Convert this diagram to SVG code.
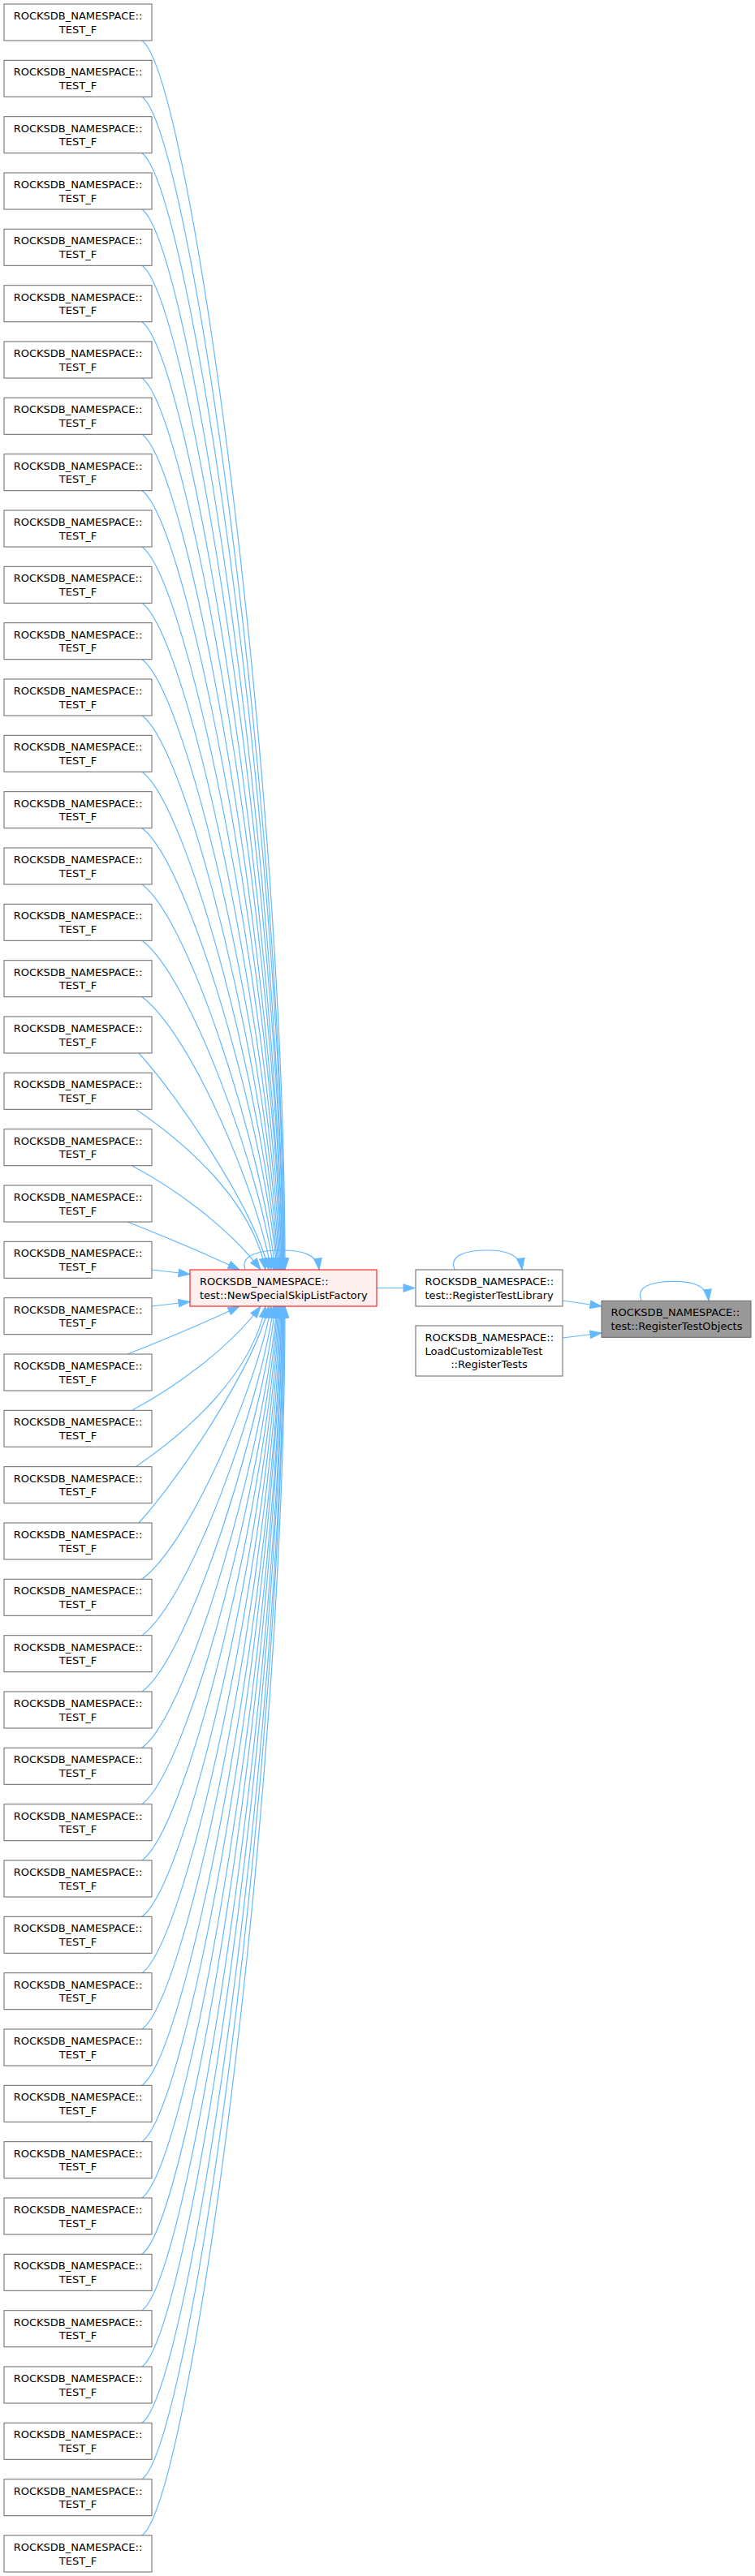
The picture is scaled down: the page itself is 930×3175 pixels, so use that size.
<svg xmlns="http://www.w3.org/2000/svg" width="930" height="3175" viewBox="0 0 930 3175">
<defs>
<style>
text{font-family:"DejaVu Sans","Liberation Sans",sans-serif;font-size:13px;fill:#000}
.node rect{fill:#fff;stroke:#666;stroke-width:1}
.node text{text-anchor:middle}
.node text.st{text-anchor:start}
.node text.md{text-anchor:middle}
#edges path{fill:none;stroke:#63b8ff;stroke-width:1.2;marker-end:url(#ah)}
</style>
<marker id="ah" markerUnits="userSpaceOnUse" markerWidth="14" markerHeight="10" refX="14" refY="4.75" orient="auto" overflow="visible">
<path d="M0,0 L14,4.75 L0,9.5 Z" fill="#63b8ff" stroke="#63b8ff" stroke-width="1"/>
</marker>
</defs>
<rect width="930" height="3175" fill="#fff"/>
<g id="edges">
<path d="M175,50 C235,95 351,959 351,1565"/>
<path d="M175,119.3 C235,164.3 349,996.4 350,1565"/>
<path d="M175,188.7 C235,233.7 348,1032.8 350,1565"/>
<path d="M175,258 C235,303 346,1068.3 349,1565"/>
<path d="M175,327.3 C235,372.3 345,1102.8 349,1565"/>
<path d="M175,396.7 C235,441.7 343,1136.6 348,1565"/>
<path d="M175,466 C235,511 342,1169.4 348,1565"/>
<path d="M175,535.3 C235,580.3 340,1201.2 347,1565"/>
<path d="M175,604.7 C235,649.7 339,1232.1 347,1565"/>
<path d="M175,674 C235,719 337,1262.1 346,1565"/>
<path d="M175,743.3 C235,788.3 335,1291.1 345,1565"/>
<path d="M175,812.7 C235,857.7 333,1319.2 344,1565"/>
<path d="M175,882 C235,927 331,1346.4 343,1565"/>
<path d="M175,951.3 C235,996.3 329,1372.7 342,1565"/>
<path d="M175,1020.7 C235,1065.7 327,1398.1 341,1565"/>
<path d="M175,1090 C235,1135 324,1422.5 339,1565"/>
<path d="M175,1159.3 C235,1204.3 321,1446 337,1565"/>
<path d="M175,1228.7 C235,1273.7 317,1468.6 334,1565"/>
<path d="M171,1298 C221,1353 313,1490.2 331,1565"/>
<path d="M167,1367 C230,1410 310,1480 327,1565"/>
<path d="M163,1437 C210,1462 280,1510 321,1565"/>
<path d="M157,1506 C205,1525 255,1546 295,1565"/>
<path d="M187,1565 L234,1570.5"/>
<path d="M187,1610 L234,1604.5"/>
<path d="M157,1669 C205,1650 255,1629 295,1610"/>
<path d="M163,1738 C210,1713 280,1665 321,1610"/>
<path d="M167,1808 C230,1765 310,1695 327,1610"/>
<path d="M171,1877 C221,1822 313,1684.8 331,1610"/>
<path d="M175,1946.3 C235,1901.3 317,1706.4 334,1610"/>
<path d="M175,2015.7 C235,1970.7 321,1729 337,1610"/>
<path d="M175,2085 C235,2040 324,1752.5 339,1610"/>
<path d="M175,2154.3 C235,2109.3 327,1776.9 341,1610"/>
<path d="M175,2223.7 C235,2178.7 329,1802.3 342,1610"/>
<path d="M175,2293 C235,2248 331,1828.6 343,1610"/>
<path d="M175,2362.3 C235,2317.3 333,1855.8 344,1610"/>
<path d="M175,2431.7 C235,2386.7 335,1883.9 345,1610"/>
<path d="M175,2501 C235,2456 337,1912.9 346,1610"/>
<path d="M175,2570.3 C235,2525.3 339,1942.9 347,1610"/>
<path d="M175,2639.7 C235,2594.7 340,1973.8 347,1610"/>
<path d="M175,2709 C235,2664 342,2005.6 348,1610"/>
<path d="M175,2778.3 C235,2733.3 343,2038.4 348,1610"/>
<path d="M175,2847.7 C235,2802.7 345,2072.2 349,1610"/>
<path d="M175,2917 C235,2872 346,2106.7 349,1610"/>
<path d="M175,2986.3 C235,2941.3 348,2142.2 350,1610"/>
<path d="M175,3055.7 C235,3010.7 349,2178.6 350,1610"/>
<path d="M175,3125 C235,3080 351,2216 351,1610"/>
<path d="M302,1565 C296,1547 318,1541 348,1541 C372,1541 391,1546 393,1565"/>
<path d="M464,1587.5 L511,1587.5"/>
<path d="M560,1565 C553,1548 572,1541 600,1541 C625,1541 641,1547 643,1565"/>
<path d="M693,1603 L741,1610"/>
<path d="M693,1649 L741,1643"/>
<path d="M790,1603.3 C783,1586 802,1579.3 830,1579.3 C855,1579.3 871,1585 873,1603.3"/>
</g>
<g id="n0" class="node" transform="translate(5,5)"><rect width="182" height="45"/><text x="91" y="19">ROCKSDB_NAMESPACE::</text><text x="91" y="35.5">TEST_F</text></g>
<g id="n1" class="node" transform="translate(5,74.3)"><rect width="182" height="45"/><text x="91" y="19">ROCKSDB_NAMESPACE::</text><text x="91" y="35.5">TEST_F</text></g>
<g id="n2" class="node" transform="translate(5,143.7)"><rect width="182" height="45"/><text x="91" y="19">ROCKSDB_NAMESPACE::</text><text x="91" y="35.5">TEST_F</text></g>
<g id="n3" class="node" transform="translate(5,213)"><rect width="182" height="45"/><text x="91" y="19">ROCKSDB_NAMESPACE::</text><text x="91" y="35.5">TEST_F</text></g>
<g id="n4" class="node" transform="translate(5,282.3)"><rect width="182" height="45"/><text x="91" y="19">ROCKSDB_NAMESPACE::</text><text x="91" y="35.5">TEST_F</text></g>
<g id="n5" class="node" transform="translate(5,351.7)"><rect width="182" height="45"/><text x="91" y="19">ROCKSDB_NAMESPACE::</text><text x="91" y="35.5">TEST_F</text></g>
<g id="n6" class="node" transform="translate(5,421)"><rect width="182" height="45"/><text x="91" y="19">ROCKSDB_NAMESPACE::</text><text x="91" y="35.5">TEST_F</text></g>
<g id="n7" class="node" transform="translate(5,490.3)"><rect width="182" height="45"/><text x="91" y="19">ROCKSDB_NAMESPACE::</text><text x="91" y="35.5">TEST_F</text></g>
<g id="n8" class="node" transform="translate(5,559.7)"><rect width="182" height="45"/><text x="91" y="19">ROCKSDB_NAMESPACE::</text><text x="91" y="35.5">TEST_F</text></g>
<g id="n9" class="node" transform="translate(5,629)"><rect width="182" height="45"/><text x="91" y="19">ROCKSDB_NAMESPACE::</text><text x="91" y="35.5">TEST_F</text></g>
<g id="n10" class="node" transform="translate(5,698.3)"><rect width="182" height="45"/><text x="91" y="19">ROCKSDB_NAMESPACE::</text><text x="91" y="35.5">TEST_F</text></g>
<g id="n11" class="node" transform="translate(5,767.7)"><rect width="182" height="45"/><text x="91" y="19">ROCKSDB_NAMESPACE::</text><text x="91" y="35.5">TEST_F</text></g>
<g id="n12" class="node" transform="translate(5,837)"><rect width="182" height="45"/><text x="91" y="19">ROCKSDB_NAMESPACE::</text><text x="91" y="35.5">TEST_F</text></g>
<g id="n13" class="node" transform="translate(5,906.3)"><rect width="182" height="45"/><text x="91" y="19">ROCKSDB_NAMESPACE::</text><text x="91" y="35.5">TEST_F</text></g>
<g id="n14" class="node" transform="translate(5,975.7)"><rect width="182" height="45"/><text x="91" y="19">ROCKSDB_NAMESPACE::</text><text x="91" y="35.5">TEST_F</text></g>
<g id="n15" class="node" transform="translate(5,1045)"><rect width="182" height="45"/><text x="91" y="19">ROCKSDB_NAMESPACE::</text><text x="91" y="35.5">TEST_F</text></g>
<g id="n16" class="node" transform="translate(5,1114.3)"><rect width="182" height="45"/><text x="91" y="19">ROCKSDB_NAMESPACE::</text><text x="91" y="35.5">TEST_F</text></g>
<g id="n17" class="node" transform="translate(5,1183.7)"><rect width="182" height="45"/><text x="91" y="19">ROCKSDB_NAMESPACE::</text><text x="91" y="35.5">TEST_F</text></g>
<g id="n18" class="node" transform="translate(5,1253)"><rect width="182" height="45"/><text x="91" y="19">ROCKSDB_NAMESPACE::</text><text x="91" y="35.5">TEST_F</text></g>
<g id="n19" class="node" transform="translate(5,1322.3)"><rect width="182" height="45"/><text x="91" y="19">ROCKSDB_NAMESPACE::</text><text x="91" y="35.5">TEST_F</text></g>
<g id="n20" class="node" transform="translate(5,1391.7)"><rect width="182" height="45"/><text x="91" y="19">ROCKSDB_NAMESPACE::</text><text x="91" y="35.5">TEST_F</text></g>
<g id="n21" class="node" transform="translate(5,1461)"><rect width="182" height="45"/><text x="91" y="19">ROCKSDB_NAMESPACE::</text><text x="91" y="35.5">TEST_F</text></g>
<g id="n22" class="node" transform="translate(5,1530.3)"><rect width="182" height="45"/><text x="91" y="19">ROCKSDB_NAMESPACE::</text><text x="91" y="35.5">TEST_F</text></g>
<g id="n23" class="node" transform="translate(5,1599.7)"><rect width="182" height="45"/><text x="91" y="19">ROCKSDB_NAMESPACE::</text><text x="91" y="35.5">TEST_F</text></g>
<g id="n24" class="node" transform="translate(5,1669)"><rect width="182" height="45"/><text x="91" y="19">ROCKSDB_NAMESPACE::</text><text x="91" y="35.5">TEST_F</text></g>
<g id="n25" class="node" transform="translate(5,1738.3)"><rect width="182" height="45"/><text x="91" y="19">ROCKSDB_NAMESPACE::</text><text x="91" y="35.5">TEST_F</text></g>
<g id="n26" class="node" transform="translate(5,1807.7)"><rect width="182" height="45"/><text x="91" y="19">ROCKSDB_NAMESPACE::</text><text x="91" y="35.5">TEST_F</text></g>
<g id="n27" class="node" transform="translate(5,1877)"><rect width="182" height="45"/><text x="91" y="19">ROCKSDB_NAMESPACE::</text><text x="91" y="35.5">TEST_F</text></g>
<g id="n28" class="node" transform="translate(5,1946.3)"><rect width="182" height="45"/><text x="91" y="19">ROCKSDB_NAMESPACE::</text><text x="91" y="35.5">TEST_F</text></g>
<g id="n29" class="node" transform="translate(5,2015.7)"><rect width="182" height="45"/><text x="91" y="19">ROCKSDB_NAMESPACE::</text><text x="91" y="35.5">TEST_F</text></g>
<g id="n30" class="node" transform="translate(5,2085)"><rect width="182" height="45"/><text x="91" y="19">ROCKSDB_NAMESPACE::</text><text x="91" y="35.5">TEST_F</text></g>
<g id="n31" class="node" transform="translate(5,2154.3)"><rect width="182" height="45"/><text x="91" y="19">ROCKSDB_NAMESPACE::</text><text x="91" y="35.5">TEST_F</text></g>
<g id="n32" class="node" transform="translate(5,2223.7)"><rect width="182" height="45"/><text x="91" y="19">ROCKSDB_NAMESPACE::</text><text x="91" y="35.5">TEST_F</text></g>
<g id="n33" class="node" transform="translate(5,2293)"><rect width="182" height="45"/><text x="91" y="19">ROCKSDB_NAMESPACE::</text><text x="91" y="35.5">TEST_F</text></g>
<g id="n34" class="node" transform="translate(5,2362.3)"><rect width="182" height="45"/><text x="91" y="19">ROCKSDB_NAMESPACE::</text><text x="91" y="35.5">TEST_F</text></g>
<g id="n35" class="node" transform="translate(5,2431.7)"><rect width="182" height="45"/><text x="91" y="19">ROCKSDB_NAMESPACE::</text><text x="91" y="35.5">TEST_F</text></g>
<g id="n36" class="node" transform="translate(5,2501)"><rect width="182" height="45"/><text x="91" y="19">ROCKSDB_NAMESPACE::</text><text x="91" y="35.5">TEST_F</text></g>
<g id="n37" class="node" transform="translate(5,2570.3)"><rect width="182" height="45"/><text x="91" y="19">ROCKSDB_NAMESPACE::</text><text x="91" y="35.5">TEST_F</text></g>
<g id="n38" class="node" transform="translate(5,2639.7)"><rect width="182" height="45"/><text x="91" y="19">ROCKSDB_NAMESPACE::</text><text x="91" y="35.5">TEST_F</text></g>
<g id="n39" class="node" transform="translate(5,2709)"><rect width="182" height="45"/><text x="91" y="19">ROCKSDB_NAMESPACE::</text><text x="91" y="35.5">TEST_F</text></g>
<g id="n40" class="node" transform="translate(5,2778.3)"><rect width="182" height="45"/><text x="91" y="19">ROCKSDB_NAMESPACE::</text><text x="91" y="35.5">TEST_F</text></g>
<g id="n41" class="node" transform="translate(5,2847.7)"><rect width="182" height="45"/><text x="91" y="19">ROCKSDB_NAMESPACE::</text><text x="91" y="35.5">TEST_F</text></g>
<g id="n42" class="node" transform="translate(5,2917)"><rect width="182" height="45"/><text x="91" y="19">ROCKSDB_NAMESPACE::</text><text x="91" y="35.5">TEST_F</text></g>
<g id="n43" class="node" transform="translate(5,2986.3)"><rect width="182" height="45"/><text x="91" y="19">ROCKSDB_NAMESPACE::</text><text x="91" y="35.5">TEST_F</text></g>
<g id="n44" class="node" transform="translate(5,3055.7)"><rect width="182" height="45"/><text x="91" y="19">ROCKSDB_NAMESPACE::</text><text x="91" y="35.5">TEST_F</text></g>
<g id="n45" class="node" transform="translate(5,3125)"><rect width="182" height="45"/><text x="91" y="19">ROCKSDB_NAMESPACE::</text><text x="91" y="35.5">TEST_F</text></g>
<g id="newSpecialSkipListFactory" class="node" transform="translate(234,1565)"><rect width="230" height="45" style="fill:#fff0f0;stroke:#f00"/><text class="st" x="12" y="19">ROCKSDB_NAMESPACE::</text><text class="st" x="12" y="35.5">test::NewSpecialSkipListFactory</text></g>
<g id="registerTestLibrary" class="node" transform="translate(512,1565)"><rect width="181" height="45"/><text class="st" x="11.5" y="19">ROCKSDB_NAMESPACE::</text><text class="st" x="11.5" y="35.5">test::RegisterTestLibrary</text></g>
<g id="registerTests" class="node" transform="translate(512,1634)"><rect width="181" height="62"/><text class="st" x="11.5" y="19">ROCKSDB_NAMESPACE::</text><text class="st" x="11.5" y="35.5">LoadCustomizableTest</text><text class="md" x="90.5" y="52">::RegisterTests</text></g>
<g id="registerTestObjects" class="node" transform="translate(741,1603.3)"><rect width="184" height="45" style="fill:#999;stroke:#666"/><text class="st" x="11.5" y="19">ROCKSDB_NAMESPACE::</text><text class="st" x="11.5" y="35.5">test::RegisterTestObjects</text></g>
</svg>
